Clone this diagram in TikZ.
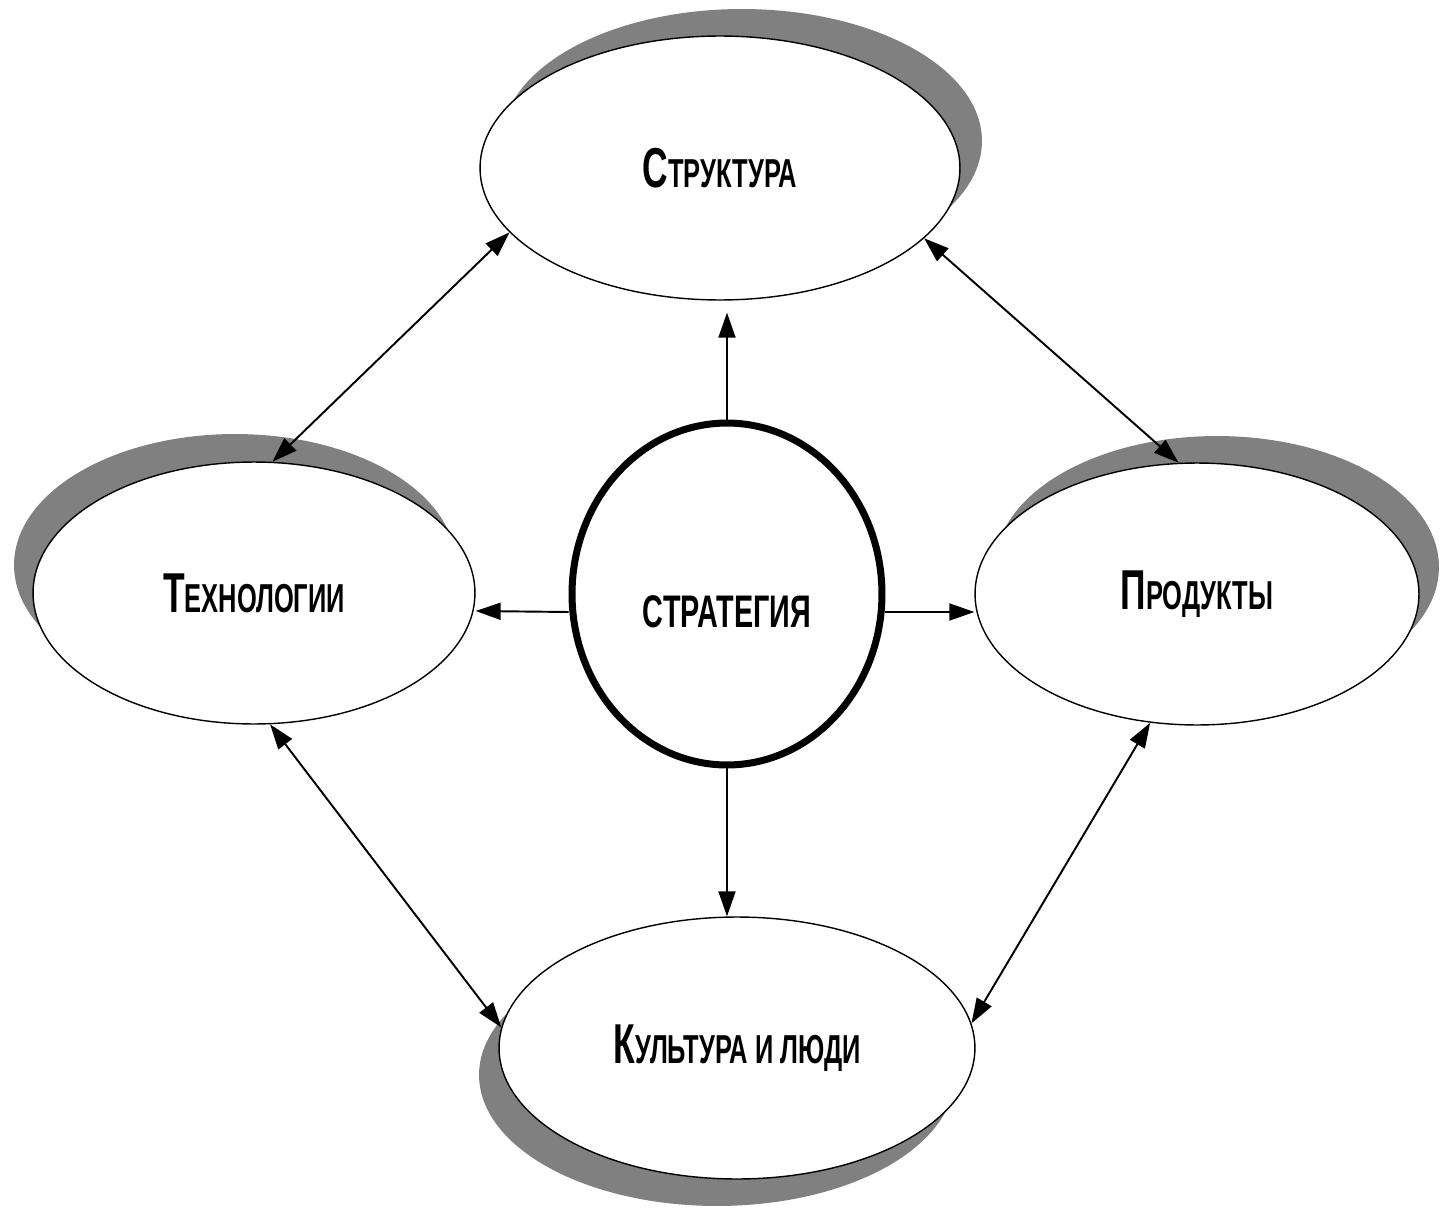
\documentclass[tikz,border=0pt]{standalone}
\usepackage{fontspec}
\newfontfamily\lblfont{Liberation Sans}[FakeStretch=0.63]
\usetikzlibrary{shapes.geometric,shadows,arrows.meta}
\definecolor{shadowgray}{HTML}{808080}
% first letter full size, the rest as small capitals
\newcommand\capword[2]{{\fontsize{32}{32}\selectfont #1}{\fontsize{23}{23}\selectfont #2}}
\tikzset{
  oval/.style={ellipse, draw, line width=0.8pt, fill=white, inner sep=0pt,
    font=\lblfont\bfseries},
  castshadow/.style 2 args={general shadow={fill=shadowgray, draw=none, opacity=1,
    shadow xshift=#1, shadow yshift=#2}},
  hub/.style={ellipse, draw, line width=0.14cm, fill=white, inner sep=0pt,
    minimum width=6.2cm, minimum height=6.84cm},
  tip/.tip={Triangle[length=0.5cm,width=0.34cm]},
  link/.style={line width=1.1pt, -tip},
  twoway/.style={line width=1.1pt, tip-tip}
}
\begin{document}
\begin{tikzpicture}[x=0.02cm,y=-0.02cm]
  \useasboundingbox (0,0) rectangle (1441,1210);
  % the four outer ovals
  \node[oval, castshadow={0.44cm}{0.54cm}, minimum width=9.6cm, minimum height=5.28cm]
    (struct) at (720,168) {\capword{С}{ТРУКТУРА}};
  \node[oval, castshadow={-0.38cm}{0.56cm}, minimum width=8.84cm, minimum height=5.24cm]
    (tech) at (254,593) {\capword{Т}{ЕХНОЛОГИИ}};
  \node[oval, castshadow={0.4cm}{0.54cm}, minimum width=8.88cm, minimum height=5.24cm]
    (prod) at (1197,594) {\capword{П}{РОДУКТЫ}};
  \node[oval, castshadow={-0.4cm}{-0.54cm}, minimum width=9.52cm, minimum height=5.24cm]
    (cult) at (737,1048) {\capword{К}{УЛЬТУРА И ЛЮДИ}};
  % centre
  \node[hub] (strat) at (727,594) {};
  \node[font=\lblfont\bfseries\fontsize{26}{26}\selectfont] (strattext)
    at ([yshift=-0.36cm]strat.center) {СТРАТЕГИЯ};
  % arrows out of the centre
  \draw[link, shorten >=0.24cm] (strat.north) -- (strat.north |- struct.south);
  \draw[link] (strat.south) -- (strat.south |- cult.north);
  \draw[link] ([yshift=-0.36cm]strat.west) -- ([yshift=-0.36cm]tech.east);
  \draw[link] ([yshift=-0.36cm]strat.east) -- ([yshift=-0.36cm]prod.west);
  % links round the ring
  \draw[twoway] (struct.197) -- (tech.82);
  \draw[twoway] (struct.341) -- (prod.98);
  \draw[twoway] (tech.277) -- (cult.175);
  \draw[twoway] (prod.250) -- (cult.6);
\end{tikzpicture}
\end{document}
